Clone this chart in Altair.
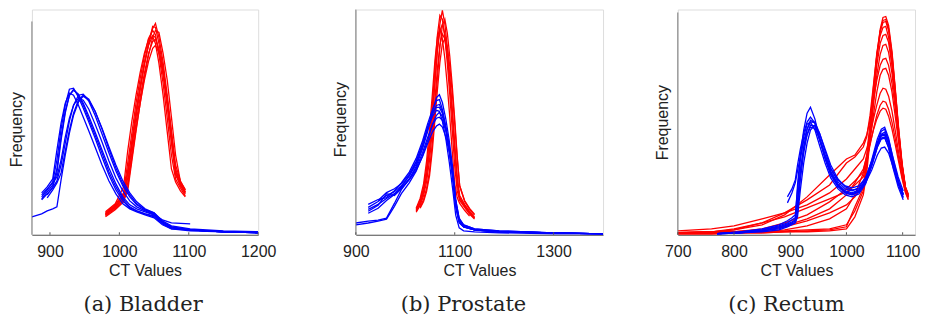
import altair as alt
import pandas as pd

# ---------------- Panel (a) Bladder ----------------
A_BLUE_X = [874, 888, 896, 904, 910, 916, 922, 928, 934, 941, 948, 956, 965, 975, 985,
            995, 1005, 1015, 1025, 1037, 1050, 1062, 1075, 1102, 1150, 1200]
A_BLUE_Y = [
    [None, 38, 45, 53, 75, 106, 130, 146, 147, 138, 127, 113, 97, 78, 60, 45, 34, 27, 24, 21, 18, 11, 6, 5, 3, 2],
    [None, None, 40, 48, 62, 95, 122, 140, 146, 140, 130, 116, 100, 82, 63, 48, 36, 28, 24, 21, 19, 12, 7, 5, 3, 2],
    [None, 42, 48, 56, 85, 112, 132, 142, 140, 130, 118, 104, 88, 70, 54, 41, 31, 26, 23, 20, 17, 10, 6, 4, 3, 2],
    [None, 35, 41, 47, 54, 70, 92, 114, 130, 140, 141, 134, 120, 101, 82, 64, 49, 38, 30, 25, 21, 13, 8, 5, 3, 2],
    [None, None, 37, 45, 52, 62, 84, 105, 122, 135, 140, 136, 124, 106, 86, 67, 51, 40, 31, 25, 22, 13, 8, 5, 3, 2],
    [None, 40, 46, 52, 58, 75, 98, 117, 130, 137, 135, 126, 111, 93, 74, 57, 44, 34, 28, 24, 20, 12, 7, 5, 3, 2],
    [18, 21, 24, 26, 28, 55, 80, 102, 120, 133, 139, 135, 124, 107, 88, 70, 54, 42, 33, 26, 22, 14, 9, 6, 4, 3],
    [None, 36, 43, 50, 66, 98, 124, 140, 145, 141, 132, 119, 103, 85, 67, 51, 38, 30, 26, 23, 20, 15, 12, 11, None, None],
]
A_RED_X = [980, 994, 1006, 1012, 1018, 1024, 1030, 1036, 1042, 1048, 1052, 1057, 1063, 1069, 1075, 1081, 1088, 1095]
A_RED_Y = [
    [21, 28, 38, 62, 92, 122, 148, 172, 192, 209, 208, 192, 168, 135, 97, 60, 50, 41],
    [19, 26, 34, 44, 74, 104, 132, 158, 180, 198, 205, 203, 182, 155, 118, 80, 53, 45],
    [23, 31, 48, 84, 114, 140, 163, 182, 196, 199, 192, 172, 140, 103, 66, 53, 44, 38],
    [20, 27, 35, 52, 82, 112, 138, 162, 182, 194, 196, 186, 164, 134, 100, 66, 52, 43],
    [22, 30, 42, 72, 102, 132, 157, 179, 197, 205, 201, 181, 152, 117, 80, 56, 47, 39],
    [18, 25, 33, 48, 77, 106, 132, 155, 174, 187, 190, 183, 164, 136, 103, 70, 54, 45],
    [21, 29, 40, 64, 94, 124, 150, 172, 190, 200, 198, 185, 160, 128, 92, 62, 49, 42],
    [20, 28, 37, 57, 88, 118, 145, 170, 191, 207, 212, 198, 173, 140, 104, 64, 51, 43],
]
A_TICKS = [900, 1000, 1100, 1200]

# ---------------- Panel (b) Prostate ----------------
B_BLUE_X = [900, 925, 945, 962, 978, 992, 1008, 1022, 1035, 1045, 1055, 1063, 1069, 1075,
            1082, 1089, 1096, 1102, 1109, 1118, 1140, 1190, 1300, 1400]
B_BLUE_Y = [
    [12, 14, 15, 17, 32, 46, 57, 70, 88, 105, 126, 140, 143, 135, 118, 96, 68, 36, 16, 10, 6, 4, 2, 1],
    [10, 12, 14, 16, 29, 42, 53, 65, 81, 96, 113, 122, 125, 121, 108, 88, 62, 33, 14, 9, 5, 3, 2, 1],
    [None, 28, 34, 40, 44, 50, 60, 72, 90, 107, 124, 132, 133, 126, 110, 90, 62, 32, 14, 8, 5, 3, 2, 1],
    [None, 24, 30, 42, 40, 47, 56, 66, 80, 93, 105, 111, 113, 110, 100, 84, 60, 32, 15, 9, 5, 3, 2, 1],
    [None, 31, 36, 38, 45, 53, 64, 78, 96, 113, 128, 137, 138, 128, 110, 86, 56, 28, 12, 8, 5, 3, 2, 1],
    [None, 26, 31, 37, 42, 48, 57, 68, 84, 99, 112, 119, 120, 117, 106, 88, 63, 35, 17, 10, 6, 4, 2, 1],
    [None, 22, 27, 35, 41, 49, 60, 74, 92, 108, 121, 127, 126, 116, 98, 74, 46, 20, 7, 4, 3, 2, 1, 1],
    [None, None, 35, 43, 47, 52, 62, 75, 93, 110, 124, 130, 130, 124, 108, 87, 60, 30, 13, 8, 5, 3, 2, 1],
]
B_RED_X = [1022, 1030, 1037, 1043, 1049, 1055, 1060, 1065, 1070, 1075, 1080, 1085, 1090, 1095,
           1100, 1105, 1110, 1120, 1130, 1140]
B_RED_Y = [
    [24, 32, 43, 60, 85, 122, 155, 190, 215, 229, 215, 192, 162, 128, 90, 55, 38, 30, 23, 17],
    [27, 37, 52, 75, 108, 145, 178, 202, 210, 200, 180, 152, 120, 85, 52, 38, 32, 25, 19, None],
    [None, 28, 36, 47, 65, 96, 128, 160, 192, 214, 220, 206, 182, 152, 118, 80, 50, 34, 26, 20],
    [26, 35, 48, 68, 97, 135, 170, 204, 224, 220, 202, 175, 143, 107, 70, 45, 35, 28, 21, 16],
    [23, 30, 40, 54, 76, 108, 138, 170, 194, 205, 200, 182, 156, 125, 92, 60, 40, 31, 24, 18],
    [25, 33, 45, 62, 88, 124, 157, 188, 208, 215, 205, 184, 156, 122, 86, 52, 37, 29, 22, 17],
    [None, 27, 34, 44, 60, 88, 118, 148, 176, 195, 200, 192, 172, 145, 113, 78, 50, 35, 27, 21],
]
B_TICKS = [900, 1100, 1300]

# ---------------- Panel (c) Rectum ----------------
C_BLUE_X = [770, 810, 850, 880, 895, 903, 909, 913, 918, 924, 930, 936, 944, 952, 962,
            972, 985, 998, 1010, 1022, 1034, 1045, 1055, 1062, 1068, 1075, 1083, 1092, 1101]
C_BLUE_Y = [
    [1, 3, 5, 8, 11, 13, 15, 50, 80, 105, 122, 128, 116, 96, 76, 60, 48, 42, 40, 43, 52, 72, 92, 104, 106, 94, 72, 52, 38],
    [1, 2, 4, 7, 10, 12, 14, 30, 62, 88, 106, 115, 112, 98, 80, 64, 51, 44, 42, 45, 55, 75, 96, 106, 108, 97, 76, 55, 40],
    [None, None, None, None, 32, 42, 52, 64, 78, 94, 106, 113, 113, 102, 84, 67, 53, 46, 44, 47, 57, 74, 92, 100, 101, 92, 73, 54, 41],
    [1, 2, 4, 6, 9, 11, 12, 22, 55, 82, 101, 110, 109, 96, 78, 62, 49, 42, 40, 43, 53, 70, 88, 96, 97, 88, 70, 51, 37],
    [None, None, None, None, 38, 46, 55, 70, 86, 102, 113, 118, 112, 97, 78, 62, 50, 43, 41, 44, 54, 72, 90, 99, 100, 91, 72, 53, 40],
    [1, 2, 3, 5, 8, 10, 12, 18, 45, 72, 92, 105, 110, 102, 86, 70, 56, 48, 45, 46, 52, 65, 80, 87, 88, 82, 68, 52, 41],
    [1, 3, 6, 10, 14, 17, 20, 45, 75, 98, 111, 113, 105, 90, 72, 57, 46, 40, 38, 41, 51, 69, 88, 97, 98, 87, 67, 48, 35],
    [1, 2, 5, 9, 12, 15, 17, 35, 65, 88, 100, 108, 107, 96, 80, 66, 55, 49, 47, 49, 57, 73, 91, 101, 103, 95, 77, 58, 44],
]
C_RED_X = [700, 760, 800, 850, 890, 930, 970, 1000, 1015, 1030, 1036, 1042, 1048, 1054,
           1060, 1065, 1070, 1075, 1081, 1087, 1093, 1099, 1105, 1110]
C_RED_Y = [
    [2, 2, 3, 3, 4, 5, 6, 10, 24, 44, 68, 100, 140, 180, 206, 218, 219, 210, 184, 146, 106, 72, 48, 40],
    [2, 3, 5, 12, 22, 35, 50, 72, 78, 88, 98, 120, 150, 182, 204, 213, 214, 205, 180, 143, 104, 70, 47, 39],
    [2, 2, 3, 6, 12, 20, 33, 46, 54, 63, 80, 112, 148, 180, 200, 208, 209, 198, 172, 138, 100, 68, 46, 38],
    [2, 2, 3, 4, 8, 14, 22, 30, 38, 50, 72, 104, 138, 170, 192, 200, 201, 193, 170, 136, 100, 70, 48, 41],
    [1, 1, 2, 2, 3, 4, 5, 8, 28, 47, 70, 98, 130, 160, 181, 190, 191, 183, 162, 132, 98, 68, 46, 39],
    [2, 3, 5, 10, 20, 38, 60, 76, 80, 92, 100, 115, 135, 155, 170, 176, 177, 170, 152, 126, 96, 68, 47, 40],
    [2, 3, 6, 12, 18, 27, 36, 43, 50, 58, 72, 95, 120, 143, 160, 166, 167, 160, 143, 118, 92, 66, 46, 38],
    [4, 6, 9, 16, 22, 30, 42, 56, 66, 76, 86, 100, 116, 130, 142, 147, 146, 139, 124, 104, 82, 62, 44, 37],
    [1, 1, 2, 3, 5, 9, 16, 26, 40, 62, 75, 90, 106, 120, 130, 134, 133, 126, 113, 96, 77, 58, 43, 36],
    [2, 2, 3, 5, 9, 16, 26, 40, 52, 66, 78, 92, 105, 116, 124, 127, 126, 119, 106, 90, 73, 56, 42, 35],
    [1, 1, 2, 2, 3, 3, 4, 6, 18, 40, 62, 95, 136, 176, 204, 215, 216, 207, 182, 144, 104, 70, 46, 38],
]
C_TICKS = [700, 800, 900, 1000, 1100]

CAPTIONS = ["(a) Bladder", "(b) Prostate", "(c) Rectum"]

SANS = "Liberation Sans"
SERIF = "DejaVu Serif"
TEXT = "#222222"
H = 226


def long_df(xs, ys_list, tag):
    rows = []
    for i, ys in enumerate(ys_list):
        for x, y in zip(xs, ys):
            if y is not None:
                rows.append({"ct": x, "freq": y, "curve": f"{tag}{i}"})
    return pd.DataFrame(rows)


def panel(bx, by, rx, ry, xdom, ytop, axis_top, ticks, width, caption, cap_dx, title_y):
    xscale = alt.Scale(domain=xdom, nice=False, zero=False)
    yscale = alt.Scale(domain=[0, ytop], nice=False, zero=False)
    xaxis = alt.Axis(values=ticks, title="CT Values", format="d", grid=False, ticks=False,
                     tickSize=0, labelPadding=9, labelFlush=False, labelOverlap=False,
                     labelFont=SANS, labelFontSize=16, labelColor=TEXT,
                     titleFont=SANS, titleFontSize=16, titleFontWeight="normal",
                     titleColor=TEXT, titlePadding=3, domainColor="#555555")
    yaxis = alt.Axis(title="Frequency", labels=False, ticks=False, domain=False, grid=False,
                     titleFont=SANS, titleFontSize=16, titleFontWeight="normal",
                     titleColor=TEXT, titlePadding=7, titleY=title_y)
    red = alt.Chart(long_df(rx, ry, "r")).mark_line(color="#ff0000", strokeWidth=1.3, clip=True).encode(
        x=alt.X("ct:Q", scale=xscale, axis=xaxis),
        y=alt.Y("freq:Q", scale=yscale, axis=yaxis),
        detail="curve:N",
    )
    blue = alt.Chart(long_df(bx, by, "b")).mark_line(color="#0000ff", strokeWidth=1.3, clip=True).encode(
        x=alt.X("ct:Q"), y=alt.Y("freq:Q"), detail="curve:N",
    )
    yline = alt.Chart(pd.DataFrame({"ct": [xdom[0]], "y0": [0], "y1": [axis_top]})).mark_rule(
        color="#7a7a7a", strokeWidth=1).encode(x="ct:Q", y="y0:Q", y2="y1")
    tick_len = 2.5 * ytop / H
    tdf = pd.DataFrame({"ct": ticks, "y0": [0] * len(ticks), "y1": [tick_len] * len(ticks)})
    tk = alt.Chart(tdf).mark_rule(color="#555555", strokeWidth=1).encode(x="ct:Q", y="y0:Q", y2="y1")
    return alt.layer(red, blue, yline, tk).properties(
        width=width, height=H,
        title=alt.TitleParams(caption, orient="bottom", anchor="middle", frame="group",
                              font=SERIF, fontSize=21, fontWeight="normal", color=TEXT,
                              dx=cap_dx, offset=15),
    )


pa = panel(A_BLUE_X, A_BLUE_Y, A_RED_X, A_RED_Y, [874, 1200], 226, 214, A_TICKS, 227, CAPTIONS[0], -2, 120)
pb = panel(B_BLUE_X, B_BLUE_Y, B_RED_X, B_RED_Y, [900, 1400], 230, 230, B_TICKS, 248, CAPTIONS[1], -16, 110)
pc = panel(C_BLUE_X, C_BLUE_Y, C_RED_X, C_RED_Y, [700, 1122], 226, 223, C_TICKS, 238, CAPTIONS[2], -10, 113)

chart = alt.hconcat(alt.hconcat(pa, pb, spacing=55), pc, spacing=50).properties(
    padding={"left": 0, "top": 0, "right": 0, "bottom": 0}
).configure_view(stroke=None).configure(background="white")

chart.save("out.html", embed_options={"renderer": "svg", "actions": False})
